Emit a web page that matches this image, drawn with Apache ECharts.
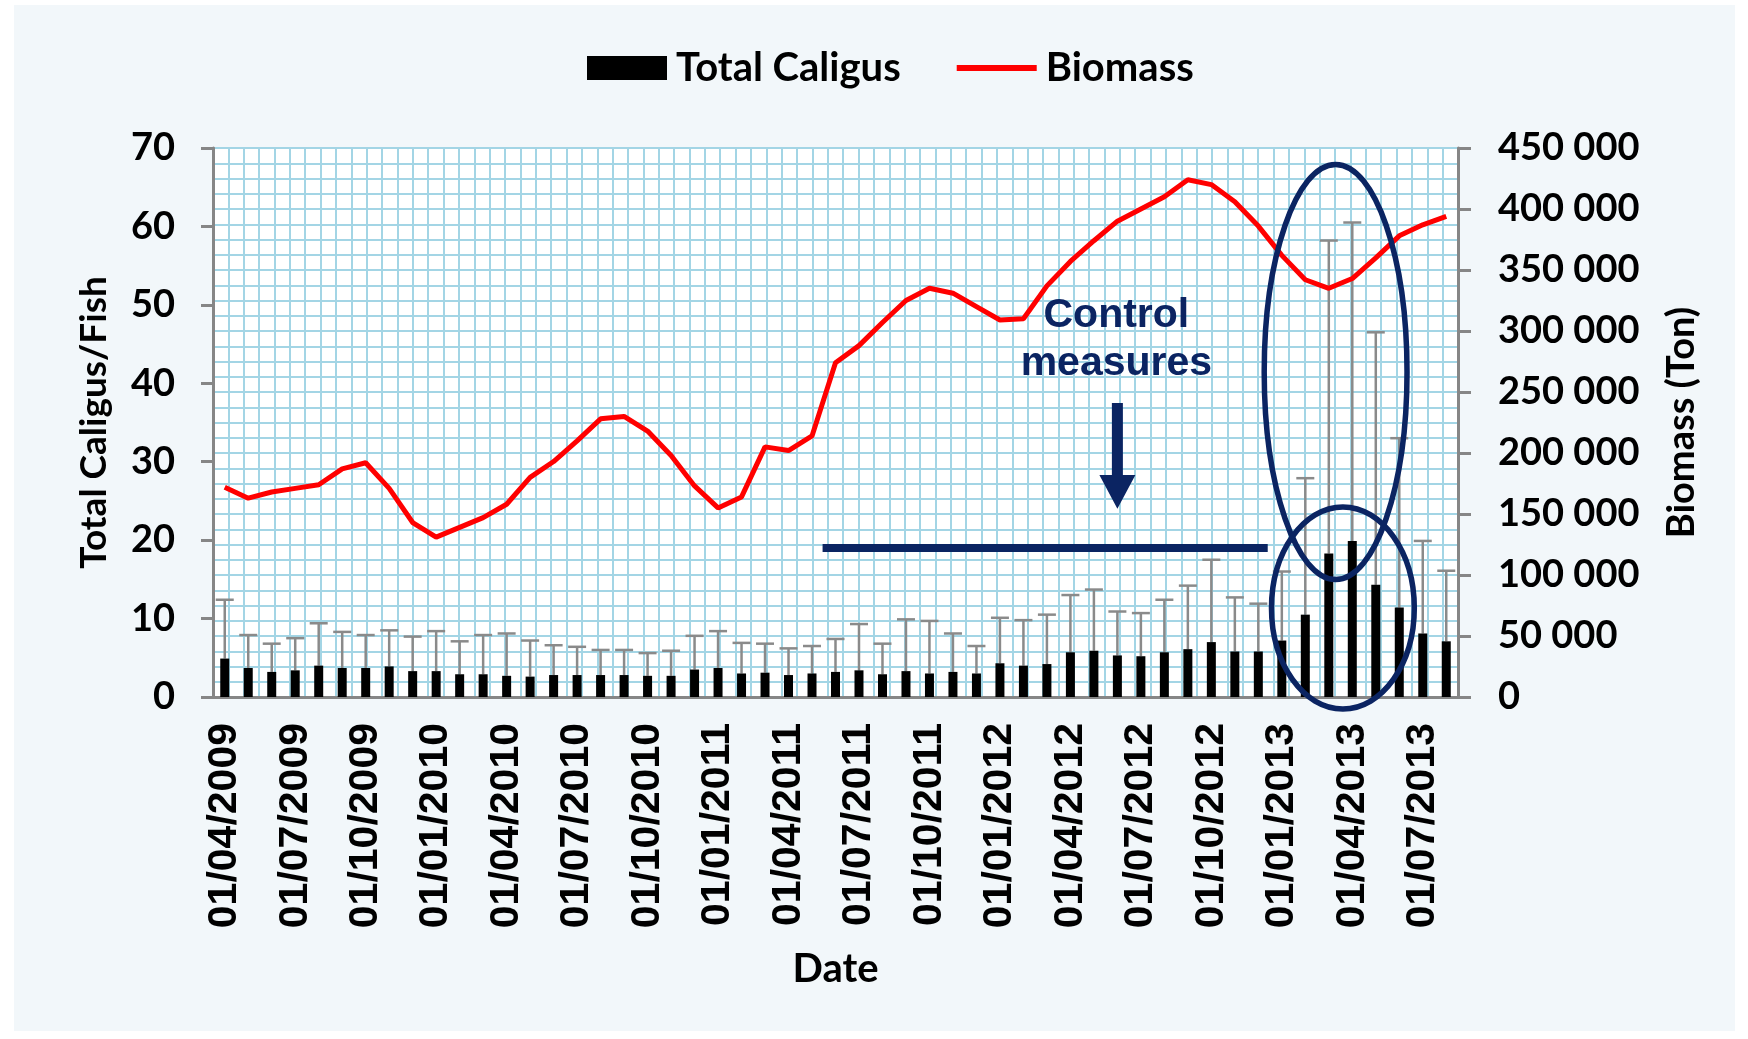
<!DOCTYPE html>
<html>
<head>
<meta charset="utf-8">
<title>Total Caligus and Biomass</title>
<script src="https://cdn.jsdelivr.net/npm/echarts@6.0.0/dist/echarts.min.js"></script>
<style>
  html, body { margin: 0; padding: 0; background: #fff; }
  #chart { width: 1748px; height: 1039px; }
</style>
</head>
<body>
<div id="chart"></div>
<script>
// monthly samples, April 2009 - August 2013
const dates = [
  '01/04/2009', '01/05/2009', '01/06/2009', '01/07/2009', '01/08/2009', '01/09/2009',
  '01/10/2009', '01/11/2009', '01/12/2009',
  '01/01/2010', '01/02/2010', '01/03/2010', '01/04/2010', '01/05/2010', '01/06/2010',
  '01/07/2010', '01/08/2010', '01/09/2010', '01/10/2010', '01/11/2010', '01/12/2010',
  '01/01/2011', '01/02/2011', '01/03/2011', '01/04/2011', '01/05/2011', '01/06/2011',
  '01/07/2011', '01/08/2011', '01/09/2011', '01/10/2011', '01/11/2011', '01/12/2011',
  '01/01/2012', '01/02/2012', '01/03/2012', '01/04/2012', '01/05/2012', '01/06/2012',
  '01/07/2012', '01/08/2012', '01/09/2012', '01/10/2012', '01/11/2012', '01/12/2012',
  '01/01/2013', '01/02/2013', '01/03/2013', '01/04/2013', '01/05/2013', '01/06/2013',
  '01/07/2013', '01/08/2013'
]

// mean caligus per fish and top of the error bar
const caligusMean = [
  4.9, 3.7, 3.2, 3.4, 4.0, 3.7, 3.7, 3.9, 3.3,
  3.3, 2.9, 2.9, 2.7, 2.6, 2.8, 2.8, 2.8, 2.8, 2.7, 2.7, 3.5,
  3.7, 3.0, 3.1, 2.8, 3.0, 3.2, 3.4, 2.9, 3.3, 3.0, 3.2, 3.0,
  4.3, 4.0, 4.2, 5.7, 5.9, 5.3, 5.2, 5.7, 6.1, 7.0, 5.8, 5.8,
  7.2, 10.5, 18.3, 19.9, 14.3, 11.4, 8.1, 7.1
]
const caligusUpper = [
  12.4, 7.9, 6.8, 7.5, 9.4, 8.3, 7.9, 8.5, 7.7,
  8.4, 7.1, 7.9, 8.1, 7.2, 6.6, 6.4, 6.0, 6.0, 5.6, 5.9, 7.8,
  8.4, 6.9, 6.8, 6.2, 6.5, 7.4, 9.3, 6.8, 9.9, 9.7, 8.1, 6.5,
  10.1, 9.8, 10.5, 13.0, 13.7, 10.9, 10.7, 12.4, 14.2, 17.5, 12.7, 11.9,
  16.0, 27.9, 58.2, 60.5, 46.5, 33.0, 19.9, 16.1
]

// biomass in tons
const biomass = [
  172000, 163000, 168000, 171000, 174000, 187000, 192000, 171000, 143000,
  131000, 139000, 147000, 158000, 180000, 193000, 210000, 228000, 230000, 218000, 198000, 173000,
  155000, 164000, 205000, 202000, 214000, 274000, 288000, 307000, 325000, 335000, 331000, 320000,
  309000, 310000, 337000, 357000, 374000, 390000, 400000, 410000, 424000, 420000, 406000, 386000,
  362000, 342000, 335000, 343000, 360000, 378000, 387000, 394000
]

const caligusAxis = [0, 70, 10]
const biomassAxis = [0, 450000, 50000]

const navy = '#0b2462'
const gray = '#868686'
const paper = '#a3d5e5'
const numFont = 'Lato'

let errData = caligusMean.map((m, i) => [i, m, caligusUpper[i]])

let backdrop = {
  type: 'rect',
  z: -10,
  silent: true,
  shape: { x: 14, y: 5, width: 1721, height: 1026 },
  style: { fill: '#f2f7fa' }
}

let option = {
  animation: false,
  backgroundColor: '#fff',
  graphic: [backdrop],
  legend: {
    left: 587,
    top: 48,
    padding: 0,
    itemWidth: 80,
    itemHeight: 24,
    itemGap: 56,
    data: [
      { name: 'Total Caligus', icon: 'rect' },
      { name: 'Biomass', icon: 'path://M0,0L80,0L80,6L0,6Z' }
    ],
    textStyle: {
      fontFamily: numFont,
      fontWeight: 'bold',
      fontSize: 40,
      color: '#000',
      padding: [0, 0, 0, 4]
    }
  },
  grid: {
    left: 213,
    right: 290,
    top: 148,
    bottom: 342,
    show: true,
    backgroundColor: '#fff',
    borderWidth: 0
  },
  xAxis: [
    {
      type: 'category',
      data: dates,
      boundaryGap: true,
      name: 'Date',
      nameLocation: 'middle',
      nameGap: 252,
      nameTextStyle: { fontFamily: numFont, fontWeight: 'bold', fontSize: 40, color: '#000' },
      axisLine: { lineStyle: { color: gray, width: 3 } },
      axisTick: { interval: 2, length: 11, lineStyle: { color: gray, width: 3 } },
      axisLabel: {
        interval: 2,
        rotate: 90,
        margin: 26,
        fontFamily: 'Liberation Sans',
        fontWeight: 'bold',
        fontSize: 41,
        color: '#000'
      },
      splitLine: { show: false }
    },
    {
      // graph paper columns
      type: 'value',
      position: 'top',
      min: 0,
      max: 81,
      interval: 1,
      axisLine: { show: false },
      axisTick: { show: false },
      axisLabel: { show: false },
      splitLine: { show: true, lineStyle: { color: paper, width: 2 } }
    }
  ],
  yAxis: [
    {
      type: 'value',
      min: caligusAxis[0],
      max: caligusAxis[1],
      interval: caligusAxis[2],
      position: 'left',
      name: 'Total Caligus/Fish',
      nameLocation: 'middle',
      nameRotate: 90,
      nameGap: 100,
      nameTextStyle: { fontFamily: numFont, fontWeight: 'bold', fontSize: 37, color: '#000' },
      axisLine: { show: true, lineStyle: { color: gray, width: 3 } },
      axisTick: { show: true, length: 12, lineStyle: { color: gray, width: 3 } },
      axisLabel: { margin: 38, fontFamily: numFont, fontWeight: 'bold', fontSize: 38, color: '#000' },
      splitLine: { show: false }
    },
    {
      type: 'value',
      min: biomassAxis[0],
      max: biomassAxis[1],
      interval: biomassAxis[2],
      position: 'right',
      name: 'Biomass (Ton)',
      nameLocation: 'middle',
      nameRotate: 90,
      nameGap: 205,
      nameTextStyle: { fontFamily: numFont, fontWeight: 'bold', fontSize: 38, color: '#000' },
      axisLine: { show: true, lineStyle: { color: gray, width: 3 } },
      axisTick: { show: true, length: 13, lineStyle: { color: gray, width: 3 } },
      axisLabel: {
        margin: 40,
        fontFamily: numFont,
        fontWeight: 'bold',
        fontSize: 38,
        color: '#000',
        formatter: v => (v === 0 ? '0' : (v / 1000) + ' 000')
      },
      splitLine: { show: false }
    },
    {
      // graph paper rows
      type: 'value',
      position: 'left',
      min: 0,
      max: 36,
      interval: 1,
      axisLine: { show: false },
      axisTick: { show: false },
      axisLabel: { show: false },
      splitLine: { show: true, lineStyle: { color: paper, width: 2 } }
    }
  ],
  series: [
    {
      name: 'Error',
      type: 'custom',
      xAxisIndex: 0,
      yAxisIndex: 0,
      z: 1,
      data: errData,
      renderItem (params, api) {
        let top = api.coord([api.value(0), api.value(2)])
        let base = api.coord([api.value(0), api.value(1)])
        let style = { stroke: '#8a8a8a', lineWidth: 2.5 }
        return {
          type: 'group',
          children: [
            { type: 'line', shape: { x1: top[0], y1: top[1], x2: base[0], y2: base[1] }, style: style },
            { type: 'line', shape: { x1: top[0] - 9, y1: top[1], x2: top[0] + 9, y2: top[1] }, style: style }
          ]
        }
      }
    },
    {
      name: 'Total Caligus',
      type: 'bar',
      xAxisIndex: 0,
      yAxisIndex: 0,
      z: 2,
      barWidth: 9,
      itemStyle: { color: '#000' },
      data: caligusMean
    },
    {
      name: 'Biomass',
      type: 'line',
      xAxisIndex: 0,
      yAxisIndex: 1,
      z: 3,
      symbol: 'none',
      lineStyle: { color: '#ff0000', width: 5 },
      itemStyle: { color: '#ff0000' },
      data: biomass
    }
  ]
}

const chart = echarts.init(document.getElementById('chart'))
chart.setOption(option)

// annotations placed in data space (category units, caligus units)
const x0 = chart.convertToPixel({ xAxisIndex: 0 }, 0)
const bw = chart.convertToPixel({ xAxisIndex: 0 }, 1) - x0
const px = c => x0 + bw * c
const py = v => chart.convertToPixel({ yAxisIndex: 0 }, v)

let arrowX = px(38)
let headTop = py(28.3)
let tip = py(24)
let shaftTop = py(37.5)
let labelFont = 'bold 41px "Liberation Sans", Arial, sans-serif'

chart.setOption({
  graphic: [
    backdrop,
    {
      type: 'line',
      z: 50,
      shape: { x1: px(25.45), y1: py(19), x2: px(44.4), y2: py(19) },
      style: { stroke: navy, lineWidth: 8 }
    },
    {
      type: 'polygon',
      z: 50,
      shape: {
        points: [
          [arrowX - 5.5, shaftTop], [arrowX + 5.5, shaftTop], [arrowX + 5.5, headTop],
          [arrowX + 18, headTop], [arrowX, tip], [arrowX - 18, headTop], [arrowX - 5.5, headTop]
        ]
      },
      style: { fill: navy }
    },
    {
      type: 'text',
      z: 50,
      x: arrowX - 1,
      y: py(48.6),
      style: { text: 'Control', fill: navy, font: labelFont, textAlign: 'center', textVerticalAlign: 'middle' }
    },
    {
      type: 'text',
      z: 50,
      x: arrowX - 1,
      y: py(42.5),
      style: { text: 'measures', fill: navy, font: labelFont, textAlign: 'center', textVerticalAlign: 'middle' }
    },
    {
      type: 'ellipse',
      z: 60,
      shape: { cx: px(47.29), cy: py(41.44), rx: bw * 3.04, ry: py(0) - py(26.46) },
      style: { fill: null, stroke: navy, lineWidth: 5.5 }
    },
    {
      type: 'ellipse',
      z: 60,
      shape: { cx: px(47.6), cy: py(11.35), rx: bw * 3.04, ry: py(0) - py(12.88) },
      style: { fill: null, stroke: navy, lineWidth: 5.5 }
    }
  ]
})
</script>
</body>
</html>
